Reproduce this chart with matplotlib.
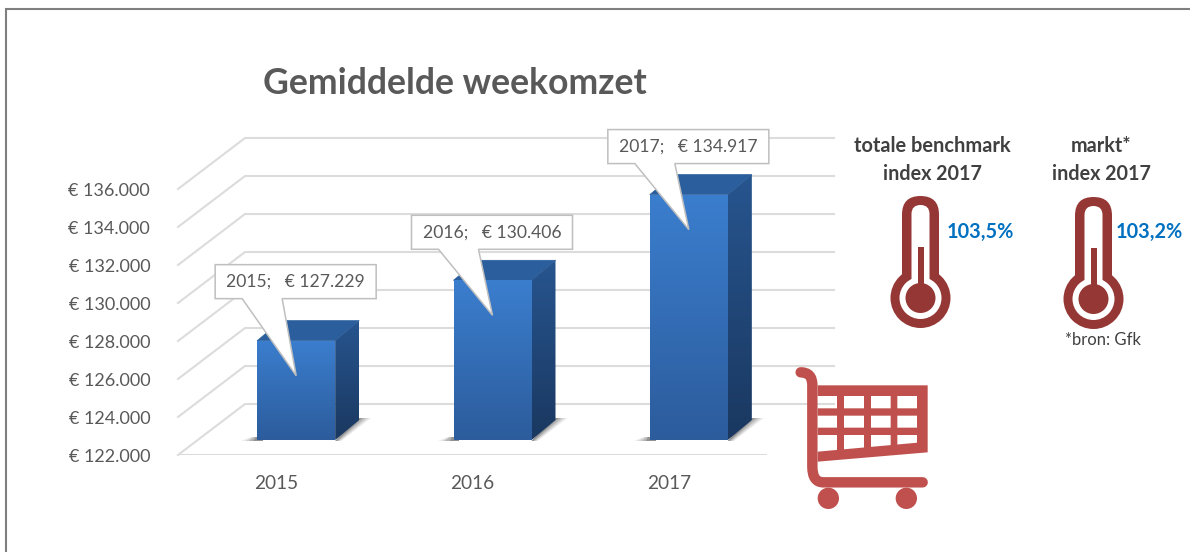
import numpy as np
import matplotlib
matplotlib.use("Agg")
import matplotlib.pyplot as plt
from matplotlib.path import Path
from matplotlib.patches import PathPatch, Polygon, Circle, Rectangle, FancyBboxPatch

plt.rcParams["font.family"] = ["Lato", "DejaVu Sans"]

years = ["2015", "2016", "2017"]
omzet = [127229, 130406, 134917]
y_ticks = [122000, 124000, 126000, 128000, 130000, 132000, 134000, 136000]
thermo_labels = ["103,5%", "103,2%"]

W, H = 1190, 552
GREY = "#595959"
GRID = "#DCDCDC"
ICON_DARK = "#953735"
ICON_RED = "#C0504D"
BLUE = "#0070C0"


def euro(v):
    return "€ " + f"{v:,.0f}".replace(",", ".")


fig = plt.figure(figsize=(W / 100, H / 100), dpi=100, facecolor="white")

# front plane of the 3d chart: 178..767 px wide, 122000 at y=455
base_px = 455
px_per_2000 = 38
top_px = base_px - 18000 * px_per_2000 / 2000
ax = fig.add_axes([178 / W, 1 - base_px / H, (767 - 178) / W, (base_px - top_px) / H])
ax.set_xlim(-0.5, 2.5)
ax.set_ylim(122000, 140000)
ax.patch.set_alpha(0)
for s in ax.spines.values():
    s.set_visible(False)

# size of one pixel in data units
ux = 3 / (767 - 178)
uy = 2000 / px_per_2000

ax.set_xticks(range(3), years)
ax.set_yticks(y_ticks, [euro(v) for v in y_ticks])
ax.tick_params(axis="both", length=0, labelcolor=GREY)
ax.tick_params(axis="y", pad=20, labelsize=13)
ax.tick_params(axis="x", pad=14.4, labelsize=13.7)

# walls
back_dx, back_dy = 67 * ux, 51 * uy
for v in y_ticks:
    ax.plot([-0.5, -0.5 + back_dx, 2.5 + back_dx], [v, v + back_dy, v + back_dy],
            color=GRID, lw=1.5, clip_on=False, zorder=1, solid_joinstyle="miter")
ax.plot([-0.5, 2.5], [y_ticks[0], y_ticks[0]], color=GRID, lw=1.5, zorder=1)


def gradient(poly, top, bottom, extent, zorder):
    c1 = np.array(matplotlib.colors.to_rgb(top))
    c2 = np.array(matplotlib.colors.to_rgb(bottom))
    t = np.linspace(0, 1, 128)[:, None, None]
    img = c1 + (c2 - c1) * t
    im = ax.imshow(img, extent=extent, aspect="auto", zorder=zorder, interpolation="bilinear")
    patch = Polygon(poly, closed=True, transform=ax.transData, fc="none", ec="none")
    ax.add_patch(patch)
    im.set_clip_path(patch)


# bars
hw = 39 * ux
front_dx, front_dy = 20 * ux, 15 * uy
side_dx, side_dy = 24 * ux, 20 * uy
for i, v in enumerate(omzet):
    xc = i + front_dx
    x0, x1 = xc - hw, xc + hw
    y0, y1 = y_ticks[0] + front_dy, v + front_dy
    # shadow on the floor
    for k, a in zip([1.0, 0.75, 0.5, 0.25], [0.10, 0.15, 0.2, 0.3]):
        ax.add_patch(Polygon([
            (x0 - 16 * k * ux, y0 - 1 * uy), (x0 + 6 * ux, y0 - 1 * uy),
            (x0 + 6 * ux, y0 + 3 * uy), (x0 - 6 * k * ux, y0 + 3 * uy)],
            fc="#404040", ec="none", alpha=a, zorder=2))
        ax.add_patch(Polygon([
            (x1 + side_dx - 4 * ux, y0 + side_dy + 2 * uy),
            (x1 + side_dx + 12 * k * ux, y0 + side_dy + 2 * uy),
            (x1 + 6 * k * ux, y0 - 1 * uy), (x1, y0 - 1 * uy)],
            fc="#404040", ec="none", alpha=a, zorder=2))
    # top
    ax.add_patch(Polygon([(x0, y1), (x1, y1), (x1 + side_dx, y1 + side_dy), (x0 + side_dx, y1 + side_dy)],
                         fc="#2A5E9C", ec="#2A5E9C", lw=0.5, zorder=3, joinstyle="round"))
    # side
    gradient([(x1, y0), (x1 + side_dx, y0 + side_dy), (x1 + side_dx, y1 + side_dy), (x1, y1)],
             "#27558F", "#1A3860", [x1, x1 + side_dx, y0, y1 + side_dy], 3)
    # front
    gradient([(x0, y0), (x1, y0), (x1, y1), (x0, y1)],
             "#3B7ECE", "#2C5C9C", [x0, x1, y0, y1], 4)

ax.set_xlim(-0.5, 2.5)
ax.set_ylim(122000, 140000)

# callouts, box position relative to the tip in px
callout_left = [81, 81, 81]
callout_bottom = [77, 66, 66]
box_w, box_h = 161, 34
for i, v in enumerate(omzet):
    tx, ty = i + front_dx, v + front_dy - 35 * uy
    l = tx - callout_left[i] * ux
    r = l + box_w * ux
    b = ty + callout_bottom[i] * uy
    t = b + box_h * uy
    base0 = l + 27 * ux
    base1 = l + 67 * ux
    ax.add_patch(Polygon([(l, t), (r, t), (r, b), (base1, b), (tx, ty), (base0, b), (l, b)],
                         closed=True, fc="white", ec="#BFBFBF", lw=1.1, zorder=6, clip_on=False))
    ax.text((l + r) / 2, (b + t) / 2, f"{years[i]};   {euro(v)}", ha="center", va="center",
            color=GREY, fontsize=12.6, zorder=7)

# overlay in pixel coordinates for frame, title and icons
ov = fig.add_axes([0, 0, 1, 1], zorder=5)
ov.set_xlim(0, W)
ov.set_ylim(H, 0)
ov.axis("off")

ov.plot([6, 6, W], [H, 9, 9], color="#7F7F7F", lw=1.5, solid_joinstyle="miter")

ov.text(263, 83, "Gemiddelde weekomzet", fontsize=25.6, fontweight="bold", color=GREY, va="center", ha="left")


def thermometer(cx, cy_bulb, top):
    ov.add_patch(FancyBboxPatch((cx, top + 18.5), 0, cy_bulb - top - 18.5,
                                boxstyle="round,pad=18.5,rounding_size=18.5", fc=ICON_DARK, ec="none"))
    ov.add_patch(Circle((cx, cy_bulb), 30, fc=ICON_DARK, ec="none"))
    ov.add_patch(FancyBboxPatch((cx, top + 18), 0, cy_bulb - top - 18,
                                boxstyle="round,pad=9,rounding_size=9", fc="white", ec="none"))
    ov.add_patch(Circle((cx, cy_bulb), 21, fc="white", ec="none"))
    ov.add_patch(Circle((cx, cy_bulb), 15, fc=ICON_DARK, ec="none"))
    ov.add_patch(Rectangle((cx - 3, top + 51), 6, cy_bulb - top - 51, fc=ICON_DARK, ec="none"))


thermometer(920.5, 298, 196)
thermometer(1093.5, 299, 197)

ov.text(932.5, 146, "totale benchmark", fontsize=14.4, fontweight="bold", color="#404040", ha="center", va="center")
ov.text(932, 174.5, "index 2017", fontsize=14.2, fontweight="bold", color="#404040", ha="center", va="center")
ov.text(1101, 146, "markt*", fontsize=14.2, fontweight="bold", color="#404040", ha="center", va="center")
ov.text(1101, 174.5, "index 2017", fontsize=14.2, fontweight="bold", color="#404040", ha="center", va="center")
ov.text(980, 232, thermo_labels[0], fontsize=14.3, fontweight="bold", color=BLUE, ha="center", va="center")
ov.text(1149.5, 232, thermo_labels[1], fontsize=14.3, fontweight="bold", color=BLUE, ha="center", va="center")
ov.text(1102.5, 340, "*bron: Gfk", fontsize=12, color="#404040", ha="center", va="center")


# shopping cart, points from the 3x zoom
def z(x, y):
    return (780 + x / 3, 120 + y / 3)


def ring(points, reverse=False):
    pts = [z(*p) for p in points]
    if reverse:
        pts = pts[::-1]
    return pts + [pts[0]], [Path.MOVETO] + [Path.LINETO] * (len(pts) - 1) + [Path.CLOSEPOLY]


verts, codes = ring([(113, 796), (443, 796), (443, 997), (113, 1025)])
cols = [(113, 171), (192, 252), (273, 332), (352, 411)]
for c0, c1 in cols:
    for r0, r1 in [(828, 865), (887, 923)]:
        v, c = ring([(c0, r0), (c1, r0), (c1, r1), (c0, r1)], reverse=True)
        verts += v
        codes += c
    bot0 = 995 - (c0 - 113) * 0.09
    bot1 = 995 - (c1 - 113) * 0.09
    v, c = ring([(c0, 945), (c1, 945), (c1, bot1), (c0, bot0)], reverse=True)
    verts += v
    codes += c
ov.add_patch(PathPatch(Path(verts, codes), fc=ICON_RED, ec="none", zorder=4))

# frame of the cart: handle, upright and bottom rail
fv = [z(62, 757), z(97, 757), z(97, 795), z(97, 1040), z(97, 1087), z(130, 1087), z(428, 1087)]
fc = [Path.MOVETO, Path.CURVE3, Path.CURVE3, Path.LINETO, Path.CURVE3, Path.CURVE3, Path.LINETO]
ov.add_patch(PathPatch(Path(fv, fc), fc="none", ec=ICON_RED, lw=7.5, capstyle="round", zorder=4))
for wx in (145, 379):
    ov.add_patch(Circle(z(wx, 1135), 32 / 3, fc=ICON_RED, ec="none", zorder=4))

fig.savefig("out.png", dpi=100, facecolor="white")
